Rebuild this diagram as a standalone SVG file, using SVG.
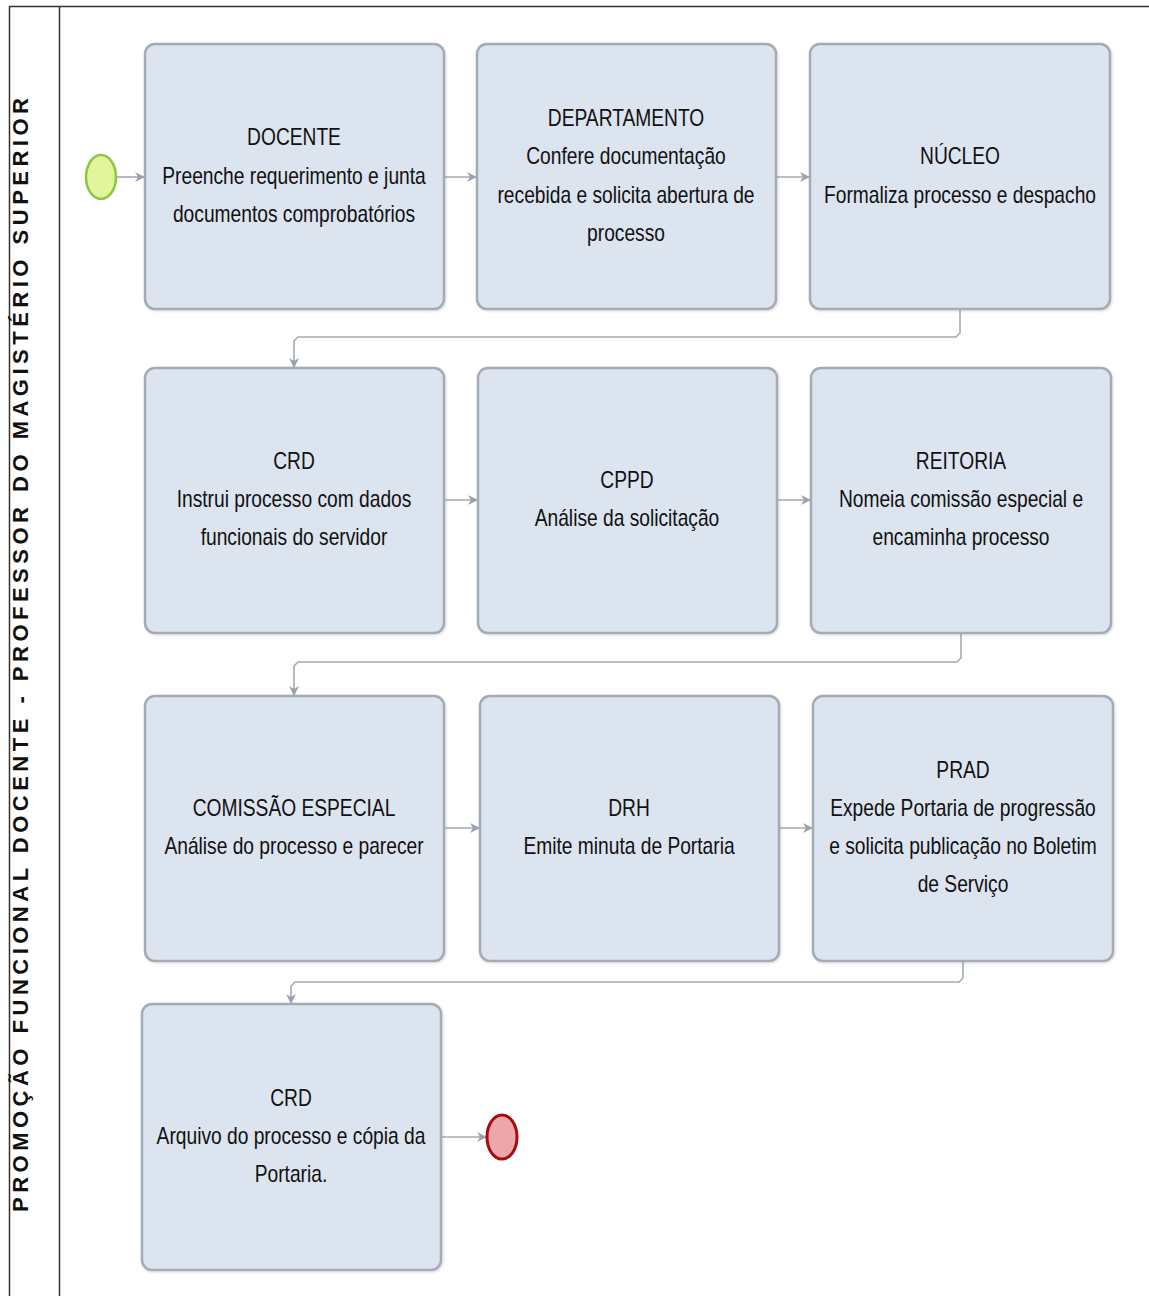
<svg xmlns="http://www.w3.org/2000/svg" width="1149" height="1296" viewBox="0 0 1149 1296">
<defs>
<marker id="arr" markerWidth="12" markerHeight="12" refX="11" refY="6" orient="auto" markerUnits="userSpaceOnUse">
<path d="M1,1 L11,6 L1,11 L4,6 z" fill="#9aa3ad"/>
</marker>
<filter id="sh" x="-5%" y="-5%" width="110%" height="110%">
<feDropShadow dx="1" dy="1" stdDeviation="1" flood-color="#000" flood-opacity="0.15"/>
</filter>
</defs>
<style>
.box{fill:#dce4ef;stroke:#a2abb6;stroke-width:2.5;filter:url(#sh)}
.t{font-family:"Liberation Sans",Arial,sans-serif;font-size:24px;fill:#111;text-anchor:middle}
.c{fill:none;stroke:#a3abb5;stroke-width:1.6;marker-end:url(#arr)}
.title{font-family:"Liberation Sans",Arial,sans-serif;font-weight:bold;font-size:22px;fill:#111;text-anchor:middle}
</style>
<rect width="1149" height="1296" fill="#fff"/>
<g id="pool">
<rect x="9.5" y="6.5" width="1200" height="1400" fill="none" stroke="#333" stroke-width="1.5"/>
<line x1="59.5" y1="6.5" x2="59.5" y2="1296" stroke="#333" stroke-width="1.5"/>
<text class="title" transform="translate(28,655) rotate(-90)" textLength="1114" lengthAdjust="spacing">PROMOÇÃO FUNCIONAL DOCENTE - PROFESSOR DO MAGISTÉRIO SUPERIOR</text>
</g>
<g id="connectors">
<path class="c" d="M117,177 H145"/>
<path class="c" d="M444,177 H477"/>
<path class="c" d="M776,177 H810"/>
<path class="c" d="M960,309 V333 L956,337 H298 L294,341 V368"/>
<path class="c" d="M444,500 H478"/>
<path class="c" d="M777,500 H811"/>
<path class="c" d="M961,633 V658 L957,662 H298 L294,666 V696"/>
<path class="c" d="M444,828 H480"/>
<path class="c" d="M779,828 H813"/>
<path class="c" d="M963,961 V978 L959,982 H295 L291,986 V1004"/>
<path class="c" d="M441,1137 H487"/>
</g>
<g id="start"><ellipse cx="101" cy="177" rx="15" ry="22" fill="#e3f59c" stroke="#8dc63f" stroke-width="2.5"/></g>
<g id="end"><ellipse cx="502" cy="1137" rx="15" ry="22" fill="#eda7ab" stroke="#a50d0d" stroke-width="3"/></g>
<g id="n1"><rect class="box" x="145" y="44" width="299" height="265" rx="10"/>
<text class="t" transform="translate(294,0) scale(0.8,1)"><tspan x="0" y="145">DOCENTE</tspan><tspan x="0" y="184">Preenche requerimento e junta</tspan><tspan x="0" y="222">documentos comprobatórios</tspan></text></g>
<g id="n2"><rect class="box" x="477" y="44" width="299" height="265" rx="10"/>
<text class="t" transform="translate(626,0) scale(0.8,1)"><tspan x="0" y="126">DEPARTAMENTO</tspan><tspan x="0" y="164">Confere documentação</tspan><tspan x="0" y="203">recebida e  solicita abertura de</tspan><tspan x="0" y="241">processo</tspan></text></g>
<g id="n3"><rect class="box" x="810" y="44" width="300" height="265" rx="10"/>
<text class="t" transform="translate(960,0) scale(0.8,1)"><tspan x="0" y="164">NÚCLEO</tspan><tspan x="0" y="203">Formaliza processo  e despacho</tspan></text></g>
<g id="n4"><rect class="box" x="145" y="368" width="299" height="265" rx="10"/>
<text class="t" transform="translate(294,0) scale(0.8,1)"><tspan x="0" y="469">CRD</tspan><tspan x="0" y="507">Instrui processo com dados</tspan><tspan x="0" y="545">funcionais do servidor</tspan></text></g>
<g id="n5"><rect class="box" x="478" y="368" width="299" height="265" rx="10"/>
<text class="t" transform="translate(627,0) scale(0.8,1)"><tspan x="0" y="488">CPPD</tspan><tspan x="0" y="526">Análise da solicitação</tspan></text></g>
<g id="n6"><rect class="box" x="811" y="368" width="300" height="265" rx="10"/>
<text class="t" transform="translate(961,0) scale(0.8,1)"><tspan x="0" y="469">REITORIA</tspan><tspan x="0" y="507">Nomeia comissão especial e</tspan><tspan x="0" y="545">encaminha processo</tspan></text></g>
<g id="n7"><rect class="box" x="145" y="696" width="299" height="265" rx="10"/>
<text class="t" transform="translate(294,0) scale(0.8,1)"><tspan x="0" y="816">COMISSÃO ESPECIAL</tspan><tspan x="0" y="854">Análise do processo e parecer</tspan></text></g>
<g id="n8"><rect class="box" x="480" y="696" width="299" height="265" rx="10"/>
<text class="t" transform="translate(629,0) scale(0.8,1)"><tspan x="0" y="816">DRH</tspan><tspan x="0" y="854">Emite minuta de Portaria</tspan></text></g>
<g id="n9"><rect class="box" x="813" y="696" width="300" height="265" rx="10"/>
<text class="t" transform="translate(963,0) scale(0.8,1)"><tspan x="0" y="778">PRAD</tspan><tspan x="0" y="816">Expede Portaria de progressão</tspan><tspan x="0" y="854">e solicita publicação no Boletim</tspan><tspan x="0" y="892">de Serviço</tspan></text></g>
<g id="n10"><rect class="box" x="142" y="1004" width="299" height="266" rx="10"/>
<text class="t" transform="translate(291,0) scale(0.8,1)"><tspan x="0" y="1106">CRD</tspan><tspan x="0" y="1144">Arquivo do processo e cópia da</tspan><tspan x="0" y="1182">Portaria.</tspan></text></g>
</svg>
